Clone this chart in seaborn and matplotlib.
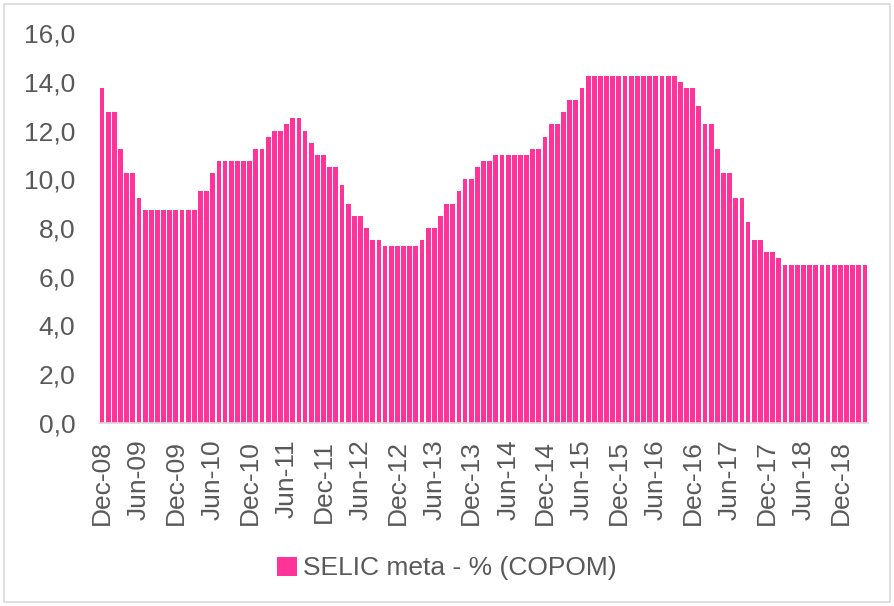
import matplotlib
matplotlib.use('Agg')
import matplotlib.pyplot as plt
from matplotlib.ticker import FuncFormatter
from matplotlib.patches import Rectangle
import pandas as pd
import seaborn as sns

# monthly SELIC target (COPOM), Dec-08 .. Apr-19
months = pd.date_range('2008-12-01', '2019-04-01', freq='MS').strftime('%b-%y').tolist()
selic = [
    13.75,
    12.75, 12.75, 11.25, 10.25, 10.25, 9.25, 8.75, 8.75, 8.75, 8.75, 8.75, 8.75,      # 2009
    8.75, 8.75, 8.75, 9.50, 9.50, 10.25, 10.75, 10.75, 10.75, 10.75, 10.75, 10.75,   # 2010
    11.25, 11.25, 11.75, 12.00, 12.00, 12.25, 12.50, 12.50, 12.00, 11.50, 11.00, 11.00,  # 2011
    10.50, 10.50, 9.75, 9.00, 8.50, 8.50, 8.00, 7.50, 7.50, 7.25, 7.25, 7.25,        # 2012
    7.25, 7.25, 7.25, 7.50, 8.00, 8.00, 8.50, 9.00, 9.00, 9.50, 10.00, 10.00,        # 2013
    10.50, 10.75, 10.75, 11.00, 11.00, 11.00, 11.00, 11.00, 11.00, 11.25, 11.25, 11.75,  # 2014
    12.25, 12.25, 12.75, 13.25, 13.25, 13.75, 14.25, 14.25, 14.25, 14.25, 14.25, 14.25,  # 2015
    14.25, 14.25, 14.25, 14.25, 14.25, 14.25, 14.25, 14.25, 14.25, 14.00, 13.75, 13.75,  # 2016
    13.00, 12.25, 12.25, 11.25, 10.25, 10.25, 9.25, 9.25, 8.25, 7.50, 7.50, 7.00,    # 2017
    7.00, 6.75, 6.50, 6.50, 6.50, 6.50, 6.50, 6.50, 6.50, 6.50, 6.50, 6.50,          # 2018
    6.50, 6.50, 6.50, 6.50,                                                          # 2019
]
tick_labels = ['Dec-08', 'Jun-09', 'Dec-09', 'Jun-10', 'Dec-10', 'Jun-11', 'Dec-11',
               'Jun-12', 'Dec-12', 'Jun-13', 'Dec-13', 'Jun-14', 'Dec-14', 'Jun-15',
               'Dec-15', 'Jun-16', 'Dec-16', 'Jun-17', 'Dec-17', 'Jun-18', 'Dec-18']
series_name = 'SELIC meta - % (COPOM)'

pink = '#ff3399'
grey_txt = '#595959'

sns.set_style('white')
plt.rcParams['font.family'] = ['Liberation Sans', 'DejaVu Sans']

df = pd.DataFrame({'month': months, 'selic': selic})

fig = plt.figure(figsize=(8.94, 6.06), dpi=100)
ax = fig.add_axes([0.1107, 0.302, 0.8603, 0.6435])

sns.barplot(data=df, x='month', y='selic', color=pink, saturation=1,
            width=0.78, linewidth=0, label=series_name, ax=ax)

ax.set_xlim(-0.5, len(months) - 0.5)
ax.set_ylim(0, 16)
ax.set_yticks(range(0, 17, 2))
ax.yaxis.set_major_formatter(FuncFormatter(lambda v, p: f'{v:.1f}'.replace('.', ',')))
ax.set_xticks(range(0, len(months), 6))
ax.set_xticklabels(tick_labels, rotation=90)
ax.set_xlabel('')
ax.set_ylabel('')

ax.tick_params(axis='y', length=0, pad=17, labelsize=19, labelcolor=grey_txt)
ax.tick_params(axis='x', length=0, pad=12, labelsize=19, labelcolor=grey_txt)

for side in ['top', 'right', 'left']:
    ax.spines[side].set_visible(False)
ax.spines['bottom'].set_color('#d9d9d9')
ax.spines['bottom'].set_linewidth(1.2)
ax.grid(False)

handles, labels = ax.get_legend_handles_labels()
if ax.get_legend() is not None:
    ax.get_legend().remove()
fig.legend(handles[:1], [series_name], loc='center', bbox_to_anchor=(0.5, 0.062),
           frameon=False, fontsize=19, labelcolor=grey_txt, handlelength=0.75,
           handleheight=0.75, handletextpad=0.25)

# outer chart border
fig.patches.append(Rectangle((4 / 894, 4 / 606), 886 / 894, 598 / 606,
                             transform=fig.transFigure, fill=False,
                             edgecolor='#d9d9d9', linewidth=1.2))

fig.savefig('out.png', dpi=100)
